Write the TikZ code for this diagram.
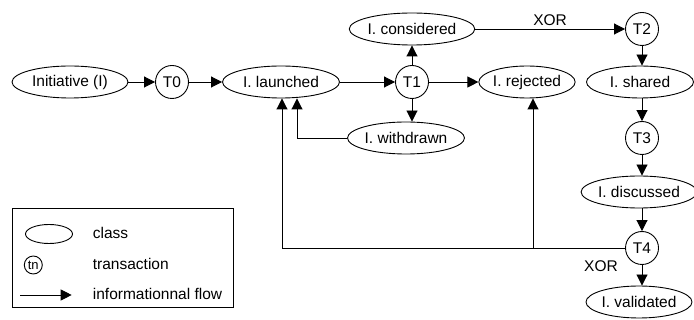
\documentclass[tikz,border=0pt]{standalone}
\usepackage{fontspec}
\setmainfont{Liberation Sans}
\usetikzlibrary{shapes.geometric,arrows.meta}
\begin{document}
\begin{tikzpicture}[x=1pt,y=-1pt,
  txt/.style={font=\fontsize{15.5}{18}\selectfont},
  cls/.style={draw,ellipse,minimum height=32pt,inner sep=0pt,line width=0.9pt,txt},
  trans/.style={draw,circle,minimum size=33pt,inner sep=0pt,line width=0.9pt,txt},
  flow/.style={-{Triangle[length=11pt,width=11pt]},line width=0.9pt},
  lbl/.style={inner sep=0pt,anchor=west,txt},
]
\useasboundingbox (0,0) rectangle (694,320);

% classes and transactions
\node[cls,minimum width=116pt] (init) at (70,82) {Initiative (I)};
\node[trans] (t0) at (172,82) {T0};
\node[cls,minimum width=117pt] (launched) at (281,82) {I. launched};
\node[trans] (t1) at (412,82) {T1};
\node[cls,minimum width=117pt] (considered) at (412,29) {I. considered};
\node[cls,minimum width=81pt] (rejected) at (527,82) {I. rejected};
\node[cls,minimum width=103pt] (withdrawn) at (406,138) {I. withdrawn};
\node[trans] (t2) at (642,29) {T2};
\node[cls,minimum width=107pt] (shared) at (640,82) {I. shared};
\node[trans] (t3) at (642,138) {T3};
\node[cls,minimum width=104pt] (discussed) at (639,192) {I. discussed};
\node[trans] (t4) at (642,248) {T4};
\node[cls,minimum width=104pt] (validated) at (639,302) {I. validated};

% main flows
\draw[flow] (init) -- (t0);
\draw[flow] (t0) -- (launched);
\draw[flow] (launched) -- (t1);
\draw[flow] (t1) -- (rejected);
\draw[flow] (t1) -- (considered);
\draw[flow] (t1.south) -- (t1.south |- withdrawn.north);
\draw[flow] (considered) -- node[above=3pt,txt,inner sep=0pt] (xor1) {XOR} (t2);
\draw[flow] (t2.south) -- (t2.south |- shared.north);
\draw[flow] (t3.north |- shared.south) -- (t3.north);
\draw[flow] (t3.south) -- (t3.south |- discussed.north);
\draw[flow] (t4.north |- discussed.south) -- (t4.north);
\draw[flow] (t4.south) -- (t4.south |- validated.north);
\node[txt,inner sep=0pt] (xor2) at (601,266) {XOR};

% feedback flows
\draw[flow] (withdrawn.west) -| ([xshift=16pt]launched.south);
\draw[flow] (t4.west) -| ([xshift=1pt]launched.south);
\coordinate (j) at ([xshift=6pt]rejected.south |- t4.west);
\draw[flow] (j) -- ([xshift=6pt]rejected.south);

% legend
\node[draw,line width=0.9pt,minimum width=221.6pt,minimum height=98.4pt,inner sep=0pt,anchor=north west] (legend) at (11.7,208.3) {};
\node[draw,ellipse,line width=0.9pt,minimum width=47pt,minimum height=19pt,inner sep=0pt] (lcls) at (49,234) {};
\node[lbl] (lclst) at (92.7,233) {class};
\node[draw,circle,line width=0.9pt,minimum size=18pt,inner sep=0pt,font=\fontsize{13}{15}\selectfont] (ltr) at (33.3,265) {tn};
\node[lbl] (ltrt) at (92.7,264) {transaction};
\coordinate (la) at (20,295);
\coordinate (lb) at (71.7,295);
\draw[flow] (la) -- (lb);
\node[lbl] (lflt) at (92.7,294) {informationnal flow};
\end{tikzpicture}
\end{document}
